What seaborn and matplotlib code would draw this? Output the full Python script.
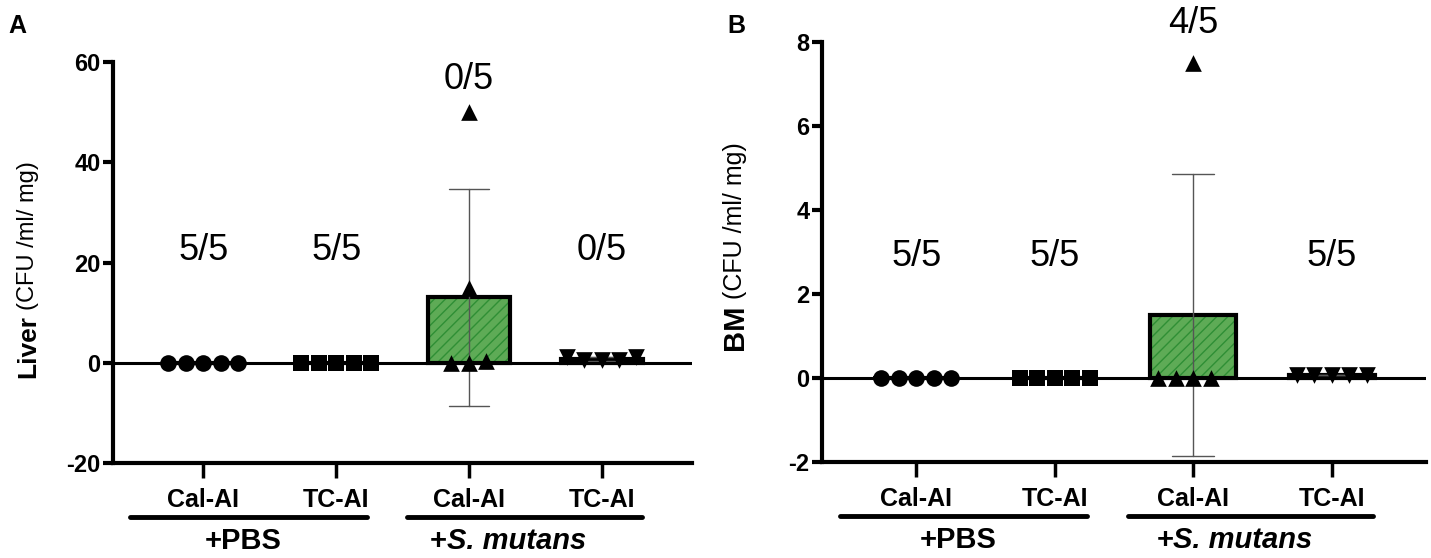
import numpy as np
import pandas as pd
import seaborn as sns
import matplotlib.pyplot as plt
from matplotlib.patches import Rectangle
from matplotlib.transforms import blended_transform_factory

sns.set_theme(style='ticks')
plt.rcParams['font.family'] = ['Liberation Sans', 'DejaVu Sans']
plt.rcParams['hatch.linewidth'] = 1.0
plt.rcParams['axes.unicode_minus'] = False
for k in ['text.color', 'axes.labelcolor', 'xtick.color', 'ytick.color', 'axes.edgecolor']:
    plt.rcParams[k] = 'black'

# Groups
cat_keys = ['PBS Cal-AI', 'PBS TC-AI', 'Sm Cal-AI', 'Sm TC-AI']
tick_names = ['Cal-AI', 'TC-AI', 'Cal-AI', 'TC-AI']
markers = ['o', 's', '^', 'v']

# Liver CFU (5 mice per group)
liver_pbs_cal = [0, 0, 0, 0, 0]
liver_pbs_tc = [0, 0, 0, 0, 0]
liver_sm_cal = [0, 0.4, 0, 15, 50]
liver_sm_tc = [0.5, 1.2, 0.6, 1.2, 0.5]
liver_frac = ['5/5', '5/5', '0/5', '0/5']
liver_frac_y = [22.5, 22.5, 56.5, 22.5]

# Bone marrow CFU
bm_pbs_cal = [0, 0, 0, 0, 0]
bm_pbs_tc = [0, 0, 0, 0, 0]
bm_sm_cal = [0, 0, 0, 0, 7.5]
bm_sm_tc = [0.08, 0.08, 0.08, 0.08, 0.08]
bm_frac = ['5/5', '5/5', '4/5', '5/5']
bm_frac_y = [2.9, 2.9, 8.45, 2.9]

green = '#52B948'
hatch_green = '#2F8F35'

fig = plt.figure(figsize=(14.31, 5.58), dpi=100)
ax_a = fig.add_axes([0.079, 0.170, 0.4046, 0.7186])
ax_b = fig.add_axes([0.5744, 0.172, 0.422, 0.7527])


def draw_panel(ax, values, frac, frac_y, ylim, yticks, name, label_pos, label_sizes):
    df = pd.DataFrame({'group': np.repeat(cat_keys, 5),
                       'value': np.concatenate(values)})
    colors = {k: 'white' for k in cat_keys}
    colors['Sm Cal-AI'] = green
    sns.barplot(data=df, x='group', y='value', order=cat_keys, hue='group',
                palette=colors, errorbar='sd', capsize=0.3, width=0.62,
                err_kws={'color': '#555555', 'linewidth': 1.0},
                edgecolor='black', linewidth=3, legend=False, ax=ax)

    # hatched green bar with black outline
    for p in ax.patches:
        if abs(p.get_x() + p.get_width() / 2 - 2) < 0.1:
            p.set_hatch('///')
            p.set_edgecolor(hatch_green)
            p.set_linewidth(0)
            ax.add_patch(Rectangle((p.get_x(), p.get_y()), p.get_width(), p.get_height(),
                                   fill=False, edgecolor='black', linewidth=3, zorder=1.5))

    ax.axhline(0, color='black', lw=2.2, zorder=3)

    for key, mk in zip(cat_keys, markers):
        sns.swarmplot(data=df[df['group'] == key], x='group', y='value', order=cat_keys,
                      color='black', marker=mk, size=12, ax=ax, zorder=5)

    for i, (s, y) in enumerate(zip(frac, frac_y)):
        ax.text(i, y, s, ha='center', va='center', fontsize=26)

    ax.set_ylim(*ylim)
    ax.set_yticks(yticks)
    ax.set_xlim(-0.68, 3.68)
    ax.set_xticks(range(4))
    ax.set_xticklabels(tick_names, fontsize=18, fontweight='bold')
    for t in ax.get_yticklabels():
        t.set_fontweight('bold')
    ax.set_xlabel('')
    ax.set_ylabel('')
    sns.despine(ax=ax)
    for s in ['left', 'bottom']:
        ax.spines[s].set_linewidth(3)
    ax.tick_params(axis='y', length=7, width=3, labelsize=17, pad=2)
    ax.tick_params(axis='x', length=11, width=2.5, pad=7)

    # y label: bold organ name + units
    t = ax.text(label_pos[0], label_pos[1], name, rotation=90, transform=ax.transAxes,
                ha='center', va='center', fontsize=label_sizes[0], fontweight='bold')
    ax.annotate('(CFU /ml/ mg)', xy=(0.5, 1.0), xycoords=t, xytext=(0, 4),
                textcoords='offset points', rotation=90, ha='center', va='bottom',
                fontsize=label_sizes[1])

    # treatment brackets below the category labels
    h_px = ax.get_position().height * fig.get_figheight() * fig.dpi
    tr = blended_transform_factory(ax.transData, ax.transAxes)
    line_y = -54 / h_px
    text_y = -78 / h_px
    for x0, x1 in [(-0.55, 1.23), (1.53, 3.3)]:
        ax.plot([x0, x1], [line_y, line_y], color='black', lw=3.5,
                transform=tr, clip_on=False)
    ax.text(0.3, text_y, '+PBS', transform=tr, ha='center', va='center',
            fontsize=21, fontweight='bold')
    sm = ax.text(2.36, text_y, 'S. mutans', transform=tr, ha='center', va='center',
                 fontsize=21, fontweight='bold', fontstyle='italic')
    ax.annotate('+', xy=(0, 0.5), xycoords=sm, ha='right', va='center',
                fontsize=21, fontweight='bold')


draw_panel(ax_a, [liver_pbs_cal, liver_pbs_tc, liver_sm_cal, liver_sm_tc],
           liver_frac, liver_frac_y, (-20, 60), [-20, 0, 20, 40, 60], 'Liver',
           (-0.147, 0.29), (19, 17))
draw_panel(ax_b, [bm_pbs_cal, bm_pbs_tc, bm_sm_cal, bm_sm_tc],
           bm_frac, bm_frac_y, (-2, 8), [-2, 0, 2, 4, 6, 8], 'BM',
           (-0.144, 0.32), (21, 18))

fig.text(0.006, 0.975, 'A', fontsize=18, fontweight='bold', va='top')
fig.text(0.508, 0.975, 'B', fontsize=18, fontweight='bold', va='top')

fig.savefig('out.png', dpi=100, facecolor='white')
